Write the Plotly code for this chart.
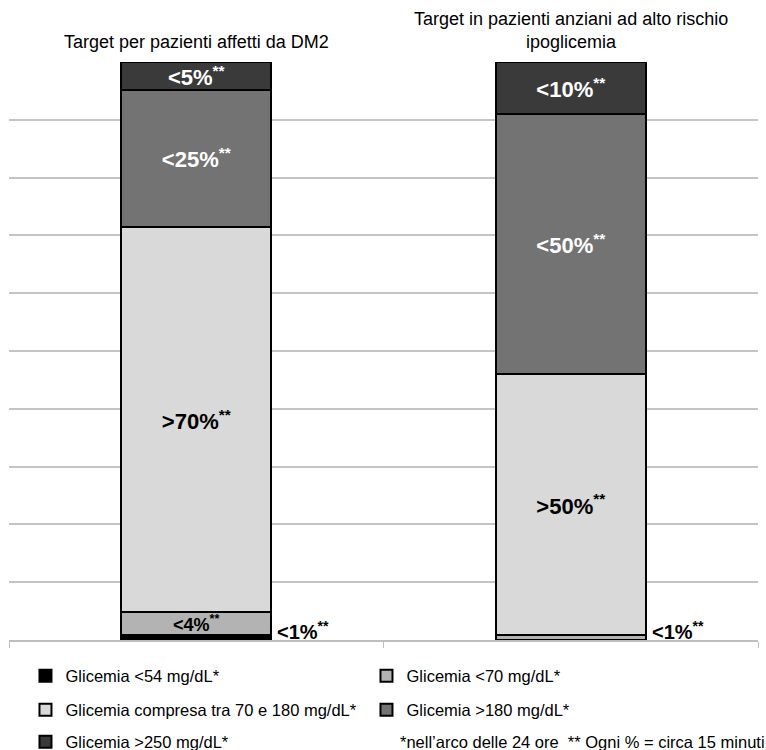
import plotly.graph_objects as go

# Target groups (x categories)
groups = ["Target per pazienti affetti da DM2",
          "Target in pazienti anziani ad alto rischio<br>ipoglicemia"]

# Time-in-range targets (% of the 24 h); stacked and normalised per bar
series_names = ["Glicemia <54 mg/dL*",
                "Glicemia <70 mg/dL*",
                "Glicemia compresa tra 70 e 180 mg/dL*",
                "Glicemia >180 mg/dL*",
                "Glicemia >250 mg/dL*"]
values = [
    [1, None],   # <54
    [4, 1],      # <70
    [70, 50],    # 70-180
    [25, 50],    # >180
    [5, 10],     # >250
]
# Comparison sign shown in front of each target value
signs = [
    ["<", None],
    ["<", "<"],
    [">", ">"],
    ["<", "<"],
    ["<", "<"],
]
colors = ["#000000", "#b3b3b3", "#d9d9d9", "#737373", "#3a3a3a"]
text_colors = ["#ffffff", "#000000", "#000000", "#ffffff", "#ffffff"]
legend_ids = ["legend", "legend", "legend2", "legend2", "legend3"]

FONT = "Liberation Sans, Arial, sans-serif"
cats = ["g1", "g2"]

def label(sign, v):
    return f"<b>{sign}{v}%<sup>**</sup></b>"

fig = go.Figure()
outside_labels = []
for i, name in enumerate(series_names):
    texts, sizes = [], []
    for j, v in enumerate(values[i]):
        if v is None:
            texts.append("")
            sizes.append(22)
            continue
        t = label(signs[i][j], v)
        if v <= 1:
            # too thin to hold text: written beside the bar
            outside_labels.append((cats[j], t))
            texts.append("")
        else:
            texts.append(t)
        sizes.append(18 if v < 5 else 22)
    fig.add_trace(go.Bar(
        x=cats, y=values[i], name=name,
        marker=dict(color=colors[i], line=dict(color="#000000", width=2)),
        text=texts, textposition="inside", insidetextanchor="middle",
        textangle=0, constraintext="none",
        textfont=dict(color=text_colors[i], size=sizes, family=FONT),
        hoverinfo="skip", legend=legend_ids[i],
    ))

for cat, t in outside_labels:
    fig.add_annotation(x=cat, y=0, xref="x", yref="y", text=t,
                       showarrow=False, xanchor="left", yanchor="bottom",
                       xshift=79, yshift=-5,
                       font=dict(size=20, color="#000000", family=FONT))

# Group titles above the bars
for cat, g in zip(cats, groups):
    fig.add_annotation(x=cat, y=1, xref="x", yref="paper", text=g,
                       showarrow=False, xanchor="center", yanchor="bottom",
                       yshift=8, align="center",
                       font=dict(size=18, color="#000000", family=FONT))

fig.add_annotation(x=(398 - 9) / 749, y=(640 - 742) / 578,
                   xref="paper", yref="paper",
                   text="*nell\u2019arco delle 24 ore  ** Ogni % = circa 15 minuti",
                   showarrow=False, xanchor="left", yanchor="middle",
                   font=dict(size=16.5, color="#000000", family=FONT))

legend_common = dict(orientation="h", xanchor="left", yanchor="middle",
                     x=0.022, entrywidth=296, entrywidthmode="pixels",
                     yref="container", traceorder="normal",
                     font=dict(size=16.5, color="#000000", family=FONT),
                     bgcolor="rgba(0,0,0,0)", itemclick=False)

fig.update_layout(
    width=766, height=750,
    margin=dict(l=9, r=8, t=62, b=110, autoexpand=False),
    paper_bgcolor="#ffffff", plot_bgcolor="#ffffff",
    barmode="stack", barnorm="percent", bargap=0.6,
    showlegend=True,
    legend=dict(legend_common, y=1 - 676 / 750),
    legend2=dict(legend_common, y=1 - 710 / 750),
    legend3=dict(legend_common, y=1 - 742 / 750),
    xaxis=dict(type="category", showticklabels=False, showline=True,
               linecolor="#bfbfbf", linewidth=1.5, ticks="outside",
               tickson="boundaries", ticklen=6, tickcolor="#bfbfbf",
               showgrid=False, zeroline=False),
    yaxis=dict(range=[0, 100], dtick=10, showticklabels=False,
               showgrid=True, gridcolor="#c4c4c4", gridwidth=1.5,
               zeroline=False, showline=False, ticks=""),
    font=dict(family=FONT),
)

fig.write_html("out.html")
